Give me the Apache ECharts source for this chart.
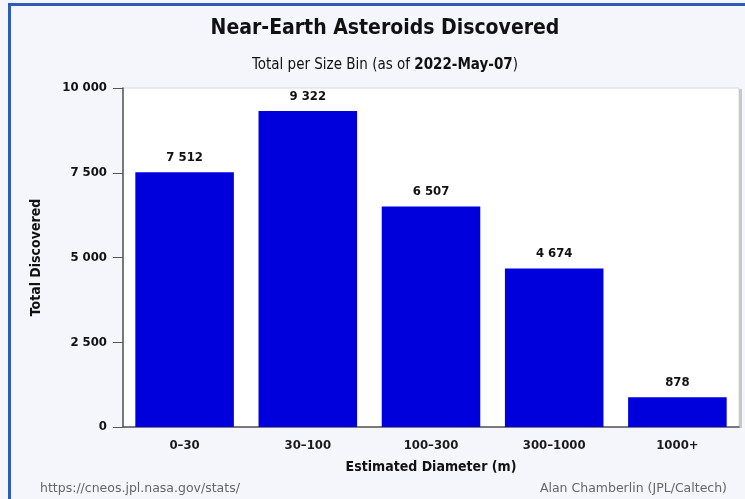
<!DOCTYPE html>
<html><head><meta charset="utf-8">
<script src="https://cdn.jsdelivr.net/npm/echarts@6/dist/echarts.min.js"></script>
<style>html,body{margin:0;padding:0;background:#F5F6FC;}#c{width:745px;height:499px;}</style>
</head><body><div id="c"></div>
<script>
const categories = ['0–30', '30–100', '100–300', '300–1000', '1000+'];
const discovered = [7512, 9322, 6507, 4674, 878];
const yTicks = [0, 2500, 5000, 7500, 10000];

const FONT = '"DejaVu Sans Condensed", "DejaVu Sans", sans-serif';
const FONT2 = '"DejaVu Sans", sans-serif';
function fmt(v){ return String(v).replace(/\B(?=(\d{3})+(?!\d))/g, ' '); }

const chart = echarts.init(document.getElementById('c'), null, {renderer:'canvas'});
chart.setOption({
  backgroundColor: '#F5F6FC',
  animation: false,
  textStyle: {fontFamily: FONT},
  title: [{
    text: 'Near-Earth Asteroids Discovered',
    left: 380, top: 13, textAlign: 'center',
    textStyle: {fontFamily: FONT, fontSize: 21, fontWeight: 'bold', color: '#111'}
  },{
    text: '{n|Total per Size Bin (as of }{b|2022-May-07}{n|)}',
    left: 380, top: 53, textAlign: 'center',
    textStyle: {fontWeight: 'normal', rich: {
      n: {fontFamily: FONT, fontSize: 15, fontWeight: 'normal', color: '#111'},
      b: {fontFamily: FONT, fontSize: 15, fontWeight: 'bold', color: '#111'}
    }}
  }],
  grid: {left: 123, top: 88, right: 6, bottom: 72, show: true, backgroundColor: '#FFFFFF', borderColor: '#D8D8D8', borderWidth: 1},
  xAxis: {
    type: 'category', data: categories,
    name: 'Estimated Diameter (m)', nameLocation: 'middle', nameGap: 33,
    nameTextStyle: {fontFamily: FONT, fontSize: 14, fontWeight: 'bold', color: '#111'},
    axisLine: {lineStyle: {color: '#555', width: 1.5}},
    axisTick: {show: false},
    axisLabel: {fontFamily: FONT, fontSize: 13, fontWeight: 'bold', color: '#1a1a1a', margin: 12}
  },
  yAxis: {
    type: 'value', min: 0, max: 10000, interval: 2500,
    name: 'Total Discovered', nameLocation: 'middle', nameGap: 80, nameRotate: 90,
    nameTextStyle: {fontFamily: FONT, fontSize: 14, fontWeight: 'bold', color: '#111'},
    axisLine: {show: true, lineStyle: {color: '#555', width: 1.5}},
    axisTick: {show: true, inside: false, length: 10, lineStyle: {color: '#555'}},
    splitLine: {show: false},
    axisLabel: {fontFamily: FONT, fontSize: 13, color: '#111', fontWeight: 'bold', margin: 16,
      formatter: v => yTicks.includes(v) ? fmt(v) : ''}
  },
  series: [{
    type: 'bar', data: discovered, barCategoryGap: '20%',
    itemStyle: {color: '#0000DD'},
    label: {show: true, position: 'top', distance: 8, fontFamily: FONT, fontSize: 13, fontWeight: 'bold', color: '#111',
      formatter: p => fmt(p.value)}
  }],
  graphic: [
    {type: 'rect', shape: {x: 8, y: 3, width: 3, height: 496}, style: {fill: '#2F5DB5'}},
    {type: 'rect', shape: {x: 8, y: 3, width: 737, height: 3}, style: {fill: '#2F5DB5'}},
    {type: 'rect', shape: {x: 739, y: 89, width: 3, height: 339}, style: {fill: '#C8C8C8'}},
    {type: 'text', left: 40, top: 482, style: {text: 'https://cneos.jpl.nasa.gov/stats/', fontFamily: FONT2, fontSize: 12.5, fill: '#666'}},
    {type: 'text', right: 18, top: 482, style: {text: 'Alan Chamberlin (JPL/Caltech)', fontFamily: FONT2, fontSize: 12.5, fill: '#666'}}
  ]
});
</script></body></html>
